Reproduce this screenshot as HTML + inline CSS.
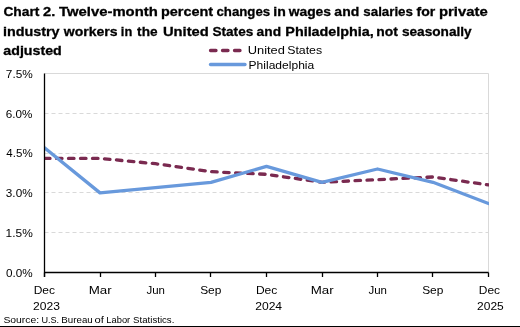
<!DOCTYPE html><html><head><meta charset="utf-8"><style>html,body{margin:0;padding:0;background:#fff;}svg{display:block;will-change:transform;}text{font-family:"Liberation Sans",sans-serif;fill:#000;}</style></head><body>
<svg width="520" height="327" viewBox="0 0 520 327">
<rect width="520" height="327" fill="#fff"/>
<text id="t0_0" x="3.41" y="16.00" font-size="13.2" font-weight="bold" textLength="36.02" lengthAdjust="spacingAndGlyphs" stroke="#000" stroke-width="0.3">Chart</text>
<text id="t0_1" x="43.01" y="16.00" font-size="13.2" font-weight="bold" textLength="12.19" lengthAdjust="spacingAndGlyphs" stroke="#000" stroke-width="0.3">2.</text>
<text id="t0_2" x="59.02" y="16.00" font-size="13.2" font-weight="bold" textLength="98.76" lengthAdjust="spacingAndGlyphs" stroke="#000" stroke-width="0.3">Twelve-month</text>
<text id="t0_3" x="161.00" y="16.00" font-size="13.2" font-weight="bold" textLength="52.18" lengthAdjust="spacingAndGlyphs" stroke="#000" stroke-width="0.3">percent</text>
<text id="t0_4" x="216.51" y="16.00" font-size="13.2" font-weight="bold" textLength="53.67" lengthAdjust="spacingAndGlyphs" stroke="#000" stroke-width="0.3">changes</text>
<text id="t0_5" x="273.23" y="16.00" font-size="13.2" font-weight="bold" textLength="12.52" lengthAdjust="spacingAndGlyphs" stroke="#000" stroke-width="0.3">in</text>
<text id="t0_6" x="288.68" y="16.00" font-size="13.2" font-weight="bold" textLength="42.32" lengthAdjust="spacingAndGlyphs" stroke="#000" stroke-width="0.3">wages</text>
<text id="t0_7" x="334.37" y="16.00" font-size="13.2" font-weight="bold" textLength="24.84" lengthAdjust="spacingAndGlyphs" stroke="#000" stroke-width="0.3">and</text>
<text id="t0_8" x="363.39" y="16.00" font-size="13.2" font-weight="bold" textLength="49.52" lengthAdjust="spacingAndGlyphs" stroke="#000" stroke-width="0.3">salaries</text>
<text id="t0_9" x="416.62" y="16.00" font-size="13.2" font-weight="bold" textLength="18.75" lengthAdjust="spacingAndGlyphs" stroke="#000" stroke-width="0.3">for</text>
<text id="t0_10" x="438.97" y="16.00" font-size="13.2" font-weight="bold" textLength="48.70" lengthAdjust="spacingAndGlyphs" stroke="#000" stroke-width="0.3">private</text>
<text id="t1_0" x="2.96" y="36.00" font-size="13.2" font-weight="bold" textLength="56.63" lengthAdjust="spacingAndGlyphs" stroke="#000" stroke-width="0.3">industry</text>
<text id="t1_1" x="63.75" y="36.00" font-size="13.2" font-weight="bold" textLength="53.83" lengthAdjust="spacingAndGlyphs" stroke="#000" stroke-width="0.3">workers</text>
<text id="t1_2" x="120.86" y="36.00" font-size="13.2" font-weight="bold" textLength="11.40" lengthAdjust="spacingAndGlyphs" stroke="#000" stroke-width="0.3">in</text>
<text id="t1_3" x="137.10" y="36.00" font-size="13.2" font-weight="bold" textLength="20.44" lengthAdjust="spacingAndGlyphs" stroke="#000" stroke-width="0.3">the</text>
<text id="t1_4" x="162.96" y="36.00" font-size="13.2" font-weight="bold" textLength="45.76" lengthAdjust="spacingAndGlyphs" stroke="#000" stroke-width="0.3">United</text>
<text id="t1_5" x="212.49" y="36.00" font-size="13.2" font-weight="bold" textLength="40.75" lengthAdjust="spacingAndGlyphs" stroke="#000" stroke-width="0.3">States</text>
<text id="t1_6" x="256.63" y="36.00" font-size="13.2" font-weight="bold" textLength="24.39" lengthAdjust="spacingAndGlyphs" stroke="#000" stroke-width="0.3">and</text>
<text id="t1_7" x="285.34" y="36.00" font-size="13.2" font-weight="bold" textLength="88.46" lengthAdjust="spacingAndGlyphs" stroke="#000" stroke-width="0.3">Philadelphia,</text>
<text id="t1_8" x="376.38" y="36.00" font-size="13.2" font-weight="bold" textLength="21.62" lengthAdjust="spacingAndGlyphs" stroke="#000" stroke-width="0.3">not</text>
<text id="t1_9" x="401.90" y="36.00" font-size="13.2" font-weight="bold" textLength="69.77" lengthAdjust="spacingAndGlyphs" stroke="#000" stroke-width="0.3">seasonally</text>
<text id="t2_0" x="3.32" y="54.50" font-size="13.2" font-weight="bold" textLength="58.42" lengthAdjust="spacingAndGlyphs" stroke="#000" stroke-width="0.3">adjusted</text>
<line x1="44.5" y1="232.5" x2="488.5" y2="232.5" stroke="#d9d9d9" stroke-width="1" stroke-dasharray="4 3"/>
<line x1="44.5" y1="192.5" x2="488.5" y2="192.5" stroke="#d9d9d9" stroke-width="1" stroke-dasharray="4 3"/>
<line x1="44.5" y1="153.5" x2="488.5" y2="153.5" stroke="#d9d9d9" stroke-width="1" stroke-dasharray="4 3"/>
<line x1="44.5" y1="113.5" x2="488.5" y2="113.5" stroke="#d9d9d9" stroke-width="1" stroke-dasharray="4 3"/>
<line x1="44.5" y1="73.5" x2="488.5" y2="73.5" stroke="#d9d9d9" stroke-width="1"/>
<line x1="488.5" y1="73.5" x2="488.5" y2="272.5" stroke="#d9d9d9" stroke-width="1"/>
<text id="y0" x="5.91" y="277.00" font-size="11" font-weight="normal" textLength="26.68" lengthAdjust="spacingAndGlyphs">0.0%</text>
<text id="y15" x="5.60" y="237.20" font-size="11" font-weight="normal" textLength="27.15" lengthAdjust="spacingAndGlyphs">1.5%</text>
<text id="y30" x="5.85" y="197.40" font-size="11" font-weight="normal" textLength="26.75" lengthAdjust="spacingAndGlyphs">3.0%</text>
<text id="y45" x="6.38" y="156.60" font-size="11" font-weight="normal" textLength="26.25" lengthAdjust="spacingAndGlyphs">4.5%</text>
<text id="y60" x="5.87" y="117.80" font-size="11" font-weight="normal" textLength="26.65" lengthAdjust="spacingAndGlyphs">6.0%</text>
<text id="y75" x="5.82" y="78.00" font-size="11" font-weight="normal" textLength="26.93" lengthAdjust="spacingAndGlyphs">7.5%</text>
<text id="m0" x="33.69" y="294.00" font-size="11" font-weight="normal" textLength="21.36" lengthAdjust="spacingAndGlyphs">Dec</text>
<text id="m1" x="88.75" y="294.00" font-size="11" font-weight="normal" textLength="22.93" lengthAdjust="spacingAndGlyphs">Mar</text>
<text id="m2" x="146.45" y="294.00" font-size="11" font-weight="normal" textLength="18.48" lengthAdjust="spacingAndGlyphs">Jun</text>
<text id="m3" x="200.16" y="294.00" font-size="11" font-weight="normal" textLength="21.26" lengthAdjust="spacingAndGlyphs">Sep</text>
<text id="m4" x="255.90" y="294.00" font-size="11" font-weight="normal" textLength="21.42" lengthAdjust="spacingAndGlyphs">Dec</text>
<text id="m5" x="310.75" y="294.00" font-size="11" font-weight="normal" textLength="22.93" lengthAdjust="spacingAndGlyphs">Mar</text>
<text id="m6" x="368.45" y="294.00" font-size="11" font-weight="normal" textLength="18.51" lengthAdjust="spacingAndGlyphs">Jun</text>
<text id="m7" x="422.16" y="294.00" font-size="11" font-weight="normal" textLength="21.26" lengthAdjust="spacingAndGlyphs">Sep</text>
<text id="m8" x="478.78" y="294.00" font-size="11" font-weight="normal" textLength="21.25" lengthAdjust="spacingAndGlyphs">Dec</text>
<text id="yr0" x="33.08" y="310.00" font-size="11" font-weight="normal" textLength="26.84" lengthAdjust="spacingAndGlyphs">2023</text>
<text id="yr4" x="255.20" y="310.00" font-size="11" font-weight="normal" textLength="26.93" lengthAdjust="spacingAndGlyphs">2024</text>
<text id="yr8" x="477.11" y="310.00" font-size="11" font-weight="normal" textLength="26.63" lengthAdjust="spacingAndGlyphs">2025</text>
<clipPath id="pc"><rect x="44.5" y="60" width="444.5" height="230"/></clipPath><g clip-path="url(#pc)">
<polyline points="44.50,158.41 100.00,158.41 155.50,163.71 211.00,171.67 266.50,174.33 322.00,182.29 377.50,179.63 433.00,176.98 488.50,184.94" fill="none" stroke="#7a2a50" stroke-width="3.3" stroke-linecap="round" stroke-linejoin="round" stroke-dasharray="5.5 6.5"/>
<polyline points="44.50,147.79 100.00,192.90 155.50,187.59 211.00,182.29 266.50,166.37 322.00,182.29 377.50,169.02 433.00,182.29 488.50,203.51" fill="none" stroke="#6899dc" stroke-width="3.3" stroke-linecap="round" stroke-linejoin="round"/>
</g>
<line x1="44.5" y1="73.5" x2="44.5" y2="277.0" stroke="#000" stroke-width="1.3"/>
<line x1="44.5" y1="272.5" x2="488.5" y2="272.5" stroke="#000" stroke-width="1.3"/>
<line x1="44.5" y1="272.5" x2="44.5" y2="277.0" stroke="#000" stroke-width="1.3"/>
<line x1="100.5" y1="272.5" x2="100.5" y2="277.0" stroke="#000" stroke-width="1.3"/>
<line x1="155.5" y1="272.5" x2="155.5" y2="277.0" stroke="#000" stroke-width="1.3"/>
<line x1="210.5" y1="272.5" x2="210.5" y2="277.0" stroke="#000" stroke-width="1.3"/>
<line x1="266.5" y1="272.5" x2="266.5" y2="277.0" stroke="#000" stroke-width="1.3"/>
<line x1="322.5" y1="272.5" x2="322.5" y2="277.0" stroke="#000" stroke-width="1.3"/>
<line x1="377.5" y1="272.5" x2="377.5" y2="277.0" stroke="#000" stroke-width="1.3"/>
<line x1="432.5" y1="272.5" x2="432.5" y2="277.0" stroke="#000" stroke-width="1.3"/>
<line x1="488.5" y1="272.5" x2="488.5" y2="277.0" stroke="#000" stroke-width="1.3"/>
<line x1="210.5" y1="50.5" x2="241" y2="50.5" stroke="#7a2a50" stroke-width="3.3" stroke-linecap="round" stroke-dasharray="5.5 6.5"/>
<line x1="210.5" y1="64.5" x2="245" y2="64.5" stroke="#6899dc" stroke-width="3.3" stroke-linecap="round"/>
<text id="legUS1" x="247.75" y="54.00" font-size="11" font-weight="normal" textLength="37.18" lengthAdjust="spacingAndGlyphs">United</text>
<text id="legUS2" x="287.17" y="54.00" font-size="11" font-weight="normal" textLength="35.00" lengthAdjust="spacingAndGlyphs">States</text>
<text id="legPH" x="248.60" y="68.50" font-size="11" font-weight="normal" textLength="65.61" lengthAdjust="spacingAndGlyphs">Philadelphia</text>
<text id="src0" x="3.41" y="323.00" font-size="9.3" font-weight="normal" textLength="35.76" lengthAdjust="spacingAndGlyphs">Source:</text>
<text id="src1" x="41.45" y="323.00" font-size="9.3" font-weight="normal" textLength="17.67" lengthAdjust="spacingAndGlyphs">U.S.</text>
<text id="src2" x="61.37" y="323.00" font-size="9.3" font-weight="normal" textLength="31.33" lengthAdjust="spacingAndGlyphs">Bureau</text>
<text id="src3" x="94.62" y="323.00" font-size="9.3" font-weight="normal" textLength="9.35" lengthAdjust="spacingAndGlyphs">of</text>
<text id="src4" x="106.31" y="323.00" font-size="9.3" font-weight="normal" textLength="23.92" lengthAdjust="spacingAndGlyphs">Labor</text>
<text id="src5" x="133.09" y="323.00" font-size="9.3" font-weight="normal" textLength="41.27" lengthAdjust="spacingAndGlyphs">Statistics.</text>
<rect x="0" y="326" width="520" height="1" fill="#000"/>
</svg></body></html>
